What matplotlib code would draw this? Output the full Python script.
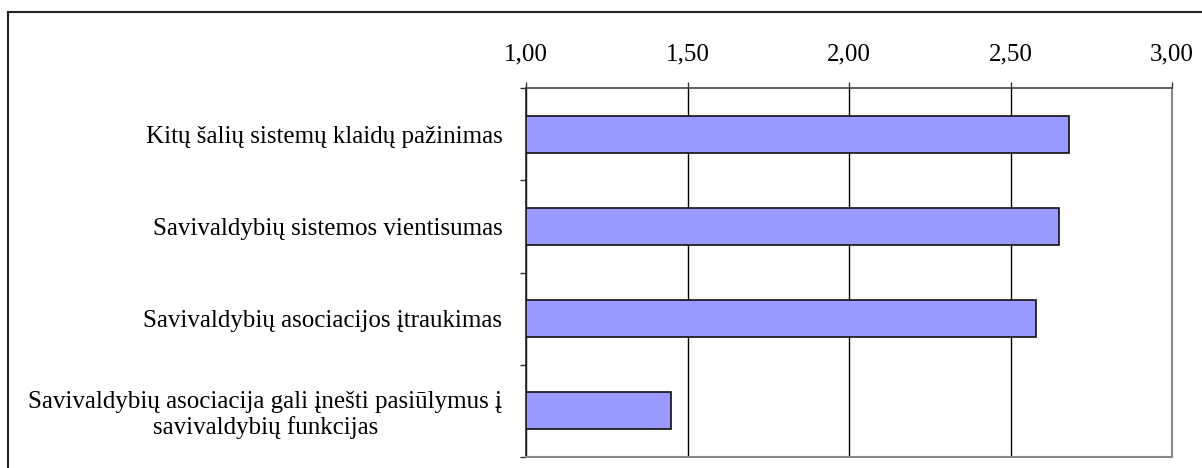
import matplotlib
matplotlib.use("Agg")
import matplotlib.pyplot as plt
from matplotlib.lines import Line2D
from matplotlib.ticker import FuncFormatter, FixedLocator

categories = [
    "Kitų šalių sistemų klaidų pažinimas",
    "Savivaldybių sistemos vientisumas",
    "Savivaldybių asociacijos įtraukimas",
    "Savivaldybių asociacija gali įnešti pasiūlymus į\nsavivaldybių funkcijas",
]
values = [2.68, 2.65, 2.58, 1.45]
x_ticks = [1.00, 1.50, 2.00, 2.50, 3.00]

plt.rcParams["font.family"] = ["Liberation Serif", "DejaVu Serif"]

W, H = 1202, 468
fig = plt.figure(figsize=(W / 100, H / 100), dpi=100)
ax = fig.add_axes([526 / W, 1 - 457 / H, (1172 - 526) / W, (457 - 88) / H])

pos = list(range(len(categories)))
ax.barh(pos, [v - 1.0 for v in values], left=1.0, height=0.4,
        color="#9999FF", edgecolor="#111111", linewidth=1.2, zorder=3)

ax.set_xlim(1.0, 3.0)
ax.set_ylim(len(categories) - 0.5, -0.5)

ax.xaxis.set_major_locator(FixedLocator(x_ticks))
ax.xaxis.set_major_formatter(FuncFormatter(lambda v, p: f"{v:.2f}".replace(".", ",")))
ax.xaxis.tick_top()
ax.tick_params(axis="x", which="major", direction="out", length=4.5, width=1,
               color="#333333", labelsize=18, pad=12)
ax.grid(axis="x", color="black", linewidth=1, zorder=1)

ax.set_yticks(pos)
ax.set_yticklabels(categories, fontsize=18, multialignment="center", linespacing=1.15)
ax.tick_params(axis="y", which="major", length=0, pad=17)
ax.yaxis.set_minor_locator(FixedLocator([p - 0.5 for p in pos] + [len(pos) - 0.5]))
ax.tick_params(axis="y", which="minor", direction="out", length=4.5, width=1, color="#333333")

ax.spines["left"].set_color("#222222")
ax.spines["left"].set_linewidth(1.2)
ax.spines["top"].set_color("#444444")
ax.spines["top"].set_linewidth(1.2)
ax.spines["right"].set_color("#888888")
ax.spines["right"].set_linewidth(1.5)
ax.spines["bottom"].set_color("#888888")
ax.spines["bottom"].set_linewidth(1.5)

# outer frame around the chart area
fx, fy = 8 / W, 1 - 12 / H
fig.add_artist(Line2D([fx, fx], [0, fy], transform=fig.transFigure, color="#222222", linewidth=1.5))
fig.add_artist(Line2D([fx, 1], [fy, fy], transform=fig.transFigure, color="#222222", linewidth=1.5))

fig.savefig("out.png", dpi=100)
